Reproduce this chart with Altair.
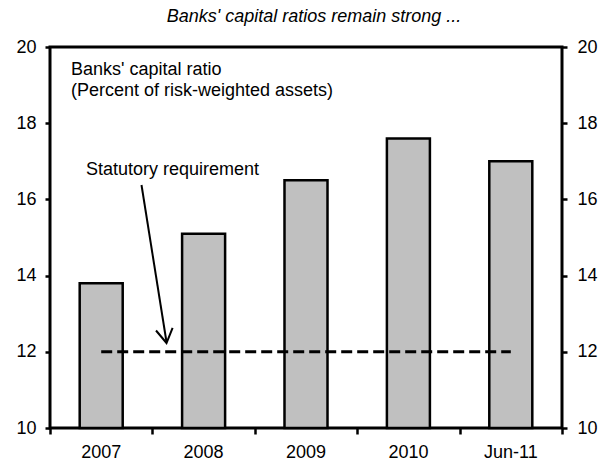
import altair as alt
import pandas as pd

categories = ["2007", "2008", "2009", "2010", "Jun-11"]
capital_ratio = [13.8, 15.1, 16.5, 17.6, 17.0]
statutory = [12, 12, 12, 12, 12]
y_ticks = [10, 12, 14, 16, 18, 20]
y_min, y_max = 10, 20

title_text = "Banks' capital ratios remain strong ..."
series_label = ["Banks' capital ratio", "(Percent of risk-weighted assets)"]
req_label = "Statutory requirement"

df = pd.DataFrame({"period": categories, "ratio": capital_ratio, "req": statutory})
edges = pd.DataFrame({"edge": list(range(len(categories) + 1))})

FONT = "Liberation Sans"
FS = 18

yscale = alt.Scale(domain=[y_min, y_max], nice=False, zero=False)

bars = alt.Chart(df).mark_bar(color="#c0c0c0", stroke="black", strokeWidth=2.5).encode(
    x=alt.X("period:N", sort=categories, title=None,
            scale=alt.Scale(paddingInner=0.58, paddingOuter=0.29),
            axis=alt.Axis(orient="bottom", labelAngle=0, ticks=False, domain=False,
                          labelPadding=15, labelFontSize=FS, labelFont=FONT,
                          labelColor="black", grid=False)),
    y=alt.Y("ratio:Q", scale=yscale, title=None,
            axis=alt.Axis(orient="left", values=y_ticks, tickSize=5, tickWidth=2.5,
                          tickColor="black", domain=False, grid=False, labelPadding=9,
                          labelFontSize=FS, labelFont=FONT, labelColor="black")),
    y2=alt.datum(y_min),
)

req_line = alt.Chart(df).mark_line(color="black", strokeWidth=3, strokeDash=[11, 5]).encode(
    x=alt.X("period:N", sort=categories),
    y=alt.Y("req:Q"),
)

title_mark = alt.Chart(pd.DataFrame({"t": [title_text]})).mark_text(
    font=FONT, fontSize=18, fontStyle="italic", align="center", baseline="middle", color="black"
).encode(x=alt.value(264), y=alt.value(-30), text="t:N")

series_mark = alt.Chart(pd.DataFrame({"t": [series_label]})).mark_text(
    font=FONT, fontSize=FS, align="left", baseline="middle", lineHeight=21, color="black"
).encode(x=alt.value(21), y=alt.value(23), text="t:N")

req_mark = alt.Chart(pd.DataFrame({"t": [req_label]})).mark_text(
    font=FONT, fontSize=FS, align="left", baseline="middle", color="black"
).encode(x=alt.value(36), y=alt.value(123), text="t:N")

arrow_shaft = alt.Chart(pd.DataFrame({"a": [0]})).mark_rule(color="black", strokeWidth=2).encode(
    x=alt.value(91.5), y=alt.value(138), x2=alt.value(116.5), y2=alt.value(295)
)
arrow_head = alt.Chart(pd.DataFrame({"a": [0]})).mark_point(
    shape="M-0.6,-1L0,0L0.6,-1", filled=False, stroke="black", strokeWidth=2,
    size=784, angle=351, opacity=1
).encode(x=alt.value(116.5), y=alt.value(296))

inner = alt.layer(bars, req_line, title_mark, series_mark, req_mark, arrow_shaft, arrow_head)

tick_layer = alt.Chart(edges).mark_point(opacity=0).encode(
    x=alt.X("edge:Q", title=None, scale=alt.Scale(domain=[0, 5], nice=False, zero=False),
            axis=alt.Axis(orient="bottom", values=list(range(6)), labels=False, tickSize=6,
                          tickWidth=2.5, tickColor="black", domain=False, grid=False)),
    y=alt.value(0),
)

right_axis = alt.Chart(df).mark_point(opacity=0).encode(
    y=alt.Y("ratio:Q", scale=yscale, title=None,
            axis=alt.Axis(orient="right", values=y_ticks, tickSize=5, tickWidth=2.5,
                          tickColor="black", domain=False, grid=False, labelPadding=10,
                          labelFontSize=FS, labelFont=FONT, labelColor="black")),
    x=alt.value(0),
)

chart = alt.layer(inner, tick_layer, right_axis).resolve_scale(
    x="independent", y="independent"
).properties(
    width=512, height=381,
    autosize=alt.AutoSizeParams(type="none"),
    padding={"left": 50, "top": 47, "right": 43, "bottom": 36},
    background="white",
).configure_view(stroke="black", strokeWidth=3)

chart.save("out.html", embed_options={"renderer": "svg", "actions": False})
